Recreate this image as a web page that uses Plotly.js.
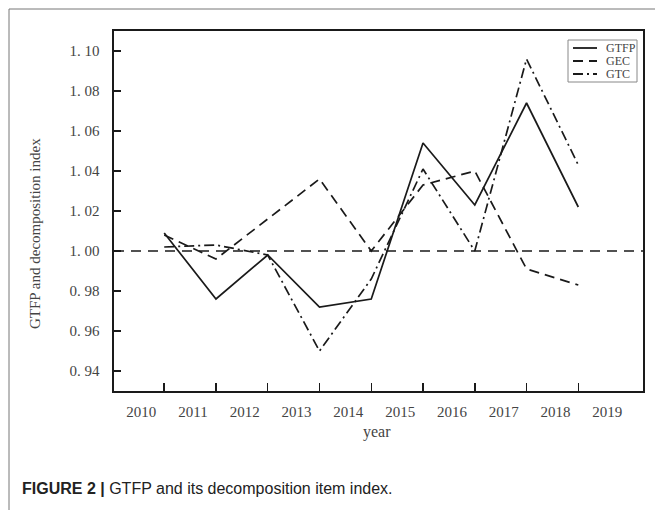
<!DOCTYPE html>
<html>
<head>
<meta charset="utf-8">
<script src="https://cdn.plot.ly/plotly-3.0.1.min.js"></script>
<style>
  html, body { margin: 0; padding: 0; background: #ffffff; }
  #chart { width: 655px; height: 510px; }
</style>
</head>
<body>
<div id="chart"></div>
<script>
// ---- data ----
const yearLabels = ['2010', '2011', '2012', '2013', '2014', '2015', '2016', '2017', '2018', '2019'];
const yearTickPositions = [2010, 2011, 2012, 2013, 2014, 2015, 2016, 2017, 2018, 2019];
const periods = [2010.5, 2011.5, 2012.5, 2013.5, 2014.5, 2015.5, 2016.5, 2017.5, 2018.5];
const gtfp = [1.009, 0.976, 0.998, 0.972, 0.976, 1.054, 1.023, 1.074, 1.022];
const gec  = [1.008, 0.996, 1.016, 1.036, 1.000, 1.033, 1.040, 0.991, 0.983];
const gtc  = [1.002, 1.003, 0.998, 0.950, 0.986, 1.041, 1.000, 1.096, 1.043];
const baselineValue = 1.00;
const seriesNames = ['GTFP', 'GEC', 'GTC'];
const yTickValues = [0.94, 0.96, 0.98, 1.00, 1.02, 1.04, 1.06, 1.08, 1.10];
const yTickLabels = ['0. 94', '0. 96', '0. 98', '1. 00', '1. 02', '1. 04', '1. 06', '1. 08', '1. 10'];
const xRange = [2009.53, 2019.75];
const yRange = [0.93, 1.11];

// ---- layout helpers (pixel -> paper) ----
const W = 655, H = 510;
const M = { l: 114, r: 12, t: 31, b: 119 };
const PW = W - M.l - M.r, PH = H - M.t - M.b;
const px = x => (x - M.l) / PW;
const py = y => (H - M.b - y) / PH;

const ink = '#1a1a1a';
const serif = 'Liberation Serif, Times New Roman, serif';
const dashes = ['solid', '10px,6px', '10px,4px,2px,4px'];
const seriesValues = [gtfp, gec, gtc];

const traces = seriesValues.map((vals, i) => ({
  type: 'scatter',
  mode: 'lines',
  x: periods,
  y: vals,
  name: seriesNames[i],
  showlegend: false,
  line: { color: ink, width: 1.7, dash: dashes[i] },
  hoverinfo: 'x+y+name'
}));

// custom compact legend (matches reference box)
const legBox = { x0: 568, x1: 637, y0: 40, y1: 82 };
const legRows = [48, 61, 74];
const shapes = [
  // outer frame lines (top + left) of the figure panel
  { type: 'line', xref: 'paper', yref: 'paper', x0: px(9), x1: px(656), y0: py(9), y1: py(9),
    line: { color: '#777', width: 1 } },
  { type: 'line', xref: 'paper', yref: 'paper', x0: px(9), x1: px(9), y0: py(9), y1: py(511),
    line: { color: '#777', width: 1 } },
  // reference line at 1.00
  { type: 'line', xref: 'paper', yref: 'y', x0: 0, x1: 1, y0: baselineValue, y1: baselineValue,
    line: { color: ink, width: 1.3, dash: '10px,7px' } },
  // legend box
  { type: 'rect', xref: 'paper', yref: 'paper', x0: px(legBox.x0), x1: px(legBox.x1),
    y0: py(legBox.y1), y1: py(legBox.y0), line: { color: '#888', width: 1 }, fillcolor: 'white' }
];
const annotations = [];
seriesNames.forEach((n, i) => {
  shapes.push({ type: 'line', xref: 'paper', yref: 'paper', x0: px(573), x1: px(597),
    y0: py(legRows[i]), y1: py(legRows[i]), line: { color: ink, width: 1.8, dash: dashes[i] } });
  annotations.push({ xref: 'paper', yref: 'paper', x: px(604), y: py(legRows[i]),
    xanchor: 'left', yanchor: 'middle', text: n, showarrow: false,
    font: { family: serif, size: 12, color: '#444' } });
});

annotations.push(
  { xref: 'paper', yref: 'paper', x: px(35), y: py(234), textangle: -90,
    xanchor: 'center', yanchor: 'middle', showarrow: false,
    text: 'GTFP and decomposition index', font: { family: serif, size: 15, color: '#444' } },
  { xref: 'paper', yref: 'paper', x: px(377), y: py(432),
    xanchor: 'center', yanchor: 'middle', showarrow: false,
    text: 'year', font: { family: serif, size: 16, color: '#444' } },
  { xref: 'paper', yref: 'paper', x: px(20), y: py(488),
    xanchor: 'left', yanchor: 'middle', showarrow: false,
    text: '<b>FIGURE 2 |</b> GTFP and its decomposition item index.',
    font: { family: 'Liberation Sans Narrow, Liberation Sans, Arial, sans-serif', size: 16, color: '#222' } }
);

const layout = {
  width: W, height: H,
  margin: M,
  paper_bgcolor: '#ffffff',
  plot_bgcolor: '#ffffff',
  showlegend: false,
  xaxis: {
    range: xRange,
    tickmode: 'array', tickvals: yearTickPositions, ticktext: yearLabels,
    ticks: '',
    minor: { tickmode: 'array', tickvals: periods, ticks: 'inside', ticklen: 8, tickwidth: 1.5, tickcolor: ink, showgrid: false },
    showgrid: false, zeroline: false,
    showline: true, mirror: true, linecolor: ink, linewidth: 1.6,
    ticklabelstandoff: 6, ticklabelshift: 3,
    tickfont: { family: serif, size: 15, color: '#444' }
  },
  yaxis: {
    range: yRange,
    tickmode: 'array', tickvals: yTickValues, ticktext: yTickLabels,
    ticks: 'inside', ticklen: 7, tickwidth: 1.5, tickcolor: ink,
    showgrid: false, zeroline: false,
    showline: true, mirror: true, linecolor: ink, linewidth: 1.6,
    ticklabelstandoff: 10,
    tickfont: { family: serif, size: 15, color: '#444' }
  },
  shapes: shapes,
  annotations: annotations
};

Plotly.newPlot('chart', traces, layout, { displayModeBar: false, staticPlot: true });
</script>
</body>
</html>
